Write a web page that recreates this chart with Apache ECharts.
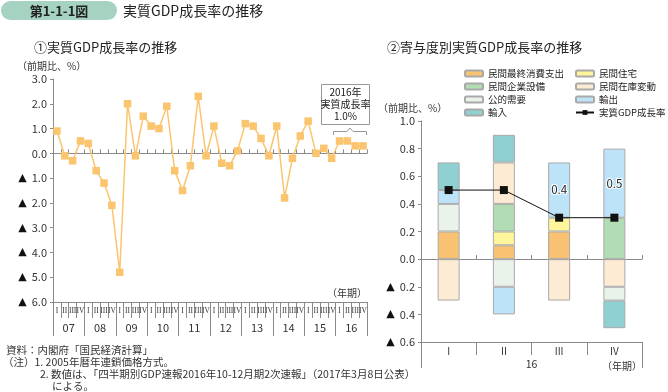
<!DOCTYPE html>
<html>
<head>
<meta charset="utf-8">
<script src="https://cdn.jsdelivr.net/npm/echarts@6/dist/echarts.min.js"></script>
<style>
html,body{margin:0;padding:0;background:#fff;}
#c{width:668px;height:392px;}
</style>
</head>
<body>
<div id="c"></div>
<script>
// ---- Left chart data: real GDP growth (q/q, %) 2007 Q1 - 2016 Q4
var quarterLabels = ['I','II','III','IV'];
var yearLabels = ['07','08','09','10','11','12','13','14','15','16'];
var gdpQuarterly = [
  0.9, -0.1, -0.3, 0.5,
  0.4, -0.7, -1.2, -2.1,
  -4.8, 2.0, -0.1, 1.5,
  1.1, 1.0, 1.9, -0.7,
  -1.5, -0.5, 2.3, -0.1,
  1.1, -0.4, -0.5, 0.1,
  1.2, 1.1, 0.6, -0.1,
  1.1, -1.8, -0.2, 0.7,
  1.3, 0.0, 0.2, -0.2,
  0.5, 0.5, 0.3, 0.3
];
// ---- Right chart data: contributions 2016 Q1-Q4
var contribQuarters = ['I','II','III','IV'];
var contribYear = ['16'];
var privateConsumption = [0.2, 0.1, 0.2, null];
var privateHousing = [null, 0.1, 0.1, null];
var privateCapex = [null, 0.2, null, 0.3];
var privateInventory = [-0.3, 0.3, -0.3, -0.2];
var publicDemand = [0.2, -0.2, null, -0.1];
var exportsC = [0.1, -0.2, 0.4, 0.5];
var importsC = [0.2, 0.2, null, -0.2];
var realGdp2016 = [0.5, 0.5, 0.3, 0.3];

var FONT = 'Noto Sans CJK JP';
var quarterCats = [];
yearLabels.forEach(function(y){ quarterLabels.forEach(function(q){ quarterCats.push(q); }); });

function fmtVal(v){
  var a = Math.abs(v).toFixed(1);
  return v < -1e-9 ? '{t|▲}  ' + a : a;
}
function nz(arr){ return arr.map(function(v){ return v === null ? '-' : v; }); }

var chart = echarts.init(document.getElementById('c'), null, {renderer:'canvas'});
var axisGray = '#8a8a8a';
var barBorder = '#a9a9a9';

function barSeries(name, data, color){
  return {
    name: name, type: 'bar', stack: 'c', xAxisIndex: 3, yAxisIndex: 1,
    barWidth: 22, data: nz(data),
    itemStyle: {color: color, borderColor: barBorder, borderWidth: 1},
    emphasis: {disabled: true}
  };
}

var exportsData = nz(exportsC).map(function(v, i){
  if (i >= 2) return {value: v, label: {show: true, position: 'inside', formatter: function(p){ return p.value.toFixed(1); },
    fontSize: 11.5, color: '#222', fontFamily: FONT, textBorderColor: '#fff', textBorderWidth: 2}};
  return v;
});

var yLabel = {formatter: fmtVal, fontSize: 11, color: '#333', margin: 6,
  rich: {t: {fontSize: 11, color: '#111', fontFamily: 'DejaVu Sans'}}};

var option = {
  animation: false,
  textStyle: {fontFamily: FONT},
  grid: [
    {left: 53, right: 301, top: 79, bottom: 90},
    {left: 421, right: 26, top: 121, bottom: 50}
  ],
  xAxis: [
    {gridIndex: 0, type: 'category', data: quarterCats, position: 'bottom', boundaryGap: true,
      axisLine: {onZero: true, lineStyle: {color: axisGray}},
      axisTick: {show: true, inside: true, length: 4, interval: 0, lineStyle: {color: axisGray}},
      axisLabel: {show: false}},
    {gridIndex: 0, type: 'category', data: quarterCats, position: 'bottom', boundaryGap: true,
      axisLine: {onZero: false, lineStyle: {color: axisGray}},
      axisTick: {show: true, length: 16, interval: 0, lineStyle: {color: axisGray}},
      axisLabel: {interval: 0, fontSize: 7.5, margin: 5, color: '#333', fontFamily: 'Liberation Sans Narrow'}},
    {gridIndex: 0, type: 'category', data: yearLabels, position: 'bottom', offset: 16, boundaryGap: true,
      axisLine: {show: false, onZero: false},
      axisTick: {show: true, length: 18, interval: 0, lineStyle: {color: axisGray}},
      axisLabel: {interval: 0, fontSize: 11, margin: 4, color: '#333'}},
    {gridIndex: 1, type: 'category', data: contribQuarters, position: 'bottom', boundaryGap: true,
      axisLine: {onZero: true, lineStyle: {color: axisGray}},
      axisTick: {show: true, inside: true, length: 4, interval: 0, lineStyle: {color: axisGray}},
      axisLabel: {show: false}},
    {gridIndex: 1, type: 'category', data: contribQuarters, position: 'bottom', boundaryGap: true,
      axisLine: {onZero: false, lineStyle: {color: axisGray}},
      axisTick: {show: true, length: 13, interval: 0, lineStyle: {color: axisGray}},
      axisLabel: {interval: 0, fontSize: 10, margin: 4, color: '#333'}},
    {gridIndex: 1, type: 'category', data: contribYear, position: 'bottom', offset: 13, boundaryGap: true,
      axisLine: {show: false, onZero: false},
      axisTick: {show: true, length: 13, interval: 0, lineStyle: {color: axisGray}},
      axisLabel: {interval: 0, fontSize: 10.5, margin: 4, color: '#333'}}
  ],
  yAxis: [
    {gridIndex: 0, type: 'value', min: -6, max: 3, interval: 1,
      axisLine: {show: true, lineStyle: {color: axisGray}},
      axisTick: {show: true, length: 3, lineStyle: {color: axisGray}},
      splitLine: {show: false}, axisLabel: yLabel},
    {gridIndex: 1, type: 'value', min: -0.6, max: 1.0, interval: 0.2,
      axisLine: {show: true, lineStyle: {color: axisGray}},
      axisTick: {show: true, length: 3, lineStyle: {color: axisGray}},
      splitLine: {show: false}, axisLabel: yLabel}
  ],
  legend: [
    {left: 459, top: 62, orient: 'vertical', itemWidth: 18, itemHeight: 6, itemGap: 0,
      textStyle: {fontSize: 9.5, lineHeight: 13, color: '#222', fontFamily: FONT},
      data: ['民間最終消費支出', '民間企業設備', '公的需要', '輸入'], selectedMode: false},
    {left: 570, top: 62, orient: 'vertical', itemWidth: 18, itemHeight: 6, itemGap: 0,
      textStyle: {fontSize: 9.5, lineHeight: 13, color: '#222', fontFamily: FONT},
      data: ['民間住宅', '民間在庫変動', '輸出', '実質GDP成長率'], selectedMode: false}
  ],
  series: [
    {name: '実質成長率', type: 'line', xAxisIndex: 0, yAxisIndex: 0, data: gdpQuarterly,
      symbol: 'rect', symbolSize: 7.5, showSymbol: true, showAllSymbol: true, color: '#FBC46E',
      lineStyle: {color: '#FBC46E', width: 1.5}, itemStyle: {color: '#FBC46E'}, z: 5},
    barSeries('民間最終消費支出', privateConsumption, '#F9C272'),
    barSeries('民間住宅', privateHousing, '#FFF59A'),
    barSeries('民間企業設備', privateCapex, '#B2DDB4'),
    barSeries('民間在庫変動', privateInventory, '#FDEBD3'),
    barSeries('公的需要', publicDemand, '#E9F3E9'),
    (function(){ var s = barSeries('輸出', exportsC, '#BDE3F8'); s.data = exportsData; return s; })(),
    barSeries('輸入', importsC, '#8FD0D2'),
    {name: '実質GDP成長率', type: 'line', xAxisIndex: 3, yAxisIndex: 1, data: realGdp2016,
      symbol: 'rect', symbolSize: 8, showSymbol: true, color: '#111',
      lineStyle: {color: '#111', width: 1}, itemStyle: {color: '#111'}, z: 10}
  ],
  graphic: [
    {type: 'rect', shape: {x: 1, y: 1, width: 116, height: 19, r: 9.5}, style: {fill: '#A5D2C1'}},
    {type: 'text', x: 59, y: 11, style: {text: '第1-1-1図', fontSize: 13, fontWeight: 'bold', fill: '#222', align: 'center', verticalAlign: 'middle', fontFamily: FONT}},
    {type: 'text', x: 123, y: 11, style: {text: '実質GDP成長率の推移', fontSize: 14, fill: '#222', verticalAlign: 'middle', fontFamily: FONT}},
    {type: 'text', x: 34, y: 47, style: {text: '①実質GDP成長率の推移', fontSize: 13, fill: '#222', verticalAlign: 'middle', fontFamily: FONT}},
    {type: 'text', x: 17, y: 66, style: {text: '（前期比、%）', fontSize: 10, fill: '#333', verticalAlign: 'middle', fontFamily: FONT}},
    {type: 'text', x: 367, y: 293, style: {text: '（年期）', fontSize: 10, fill: '#333', align: 'right', verticalAlign: 'middle', fontFamily: FONT}},
    {type: 'text', x: 387, y: 47, style: {text: '②寄与度別実質GDP成長率の推移', fontSize: 13, fill: '#222', verticalAlign: 'middle', fontFamily: FONT}},
    {type: 'text', x: 378, y: 108, style: {text: '（前期比、%）', fontSize: 10, fill: '#333', verticalAlign: 'middle', fontFamily: FONT}},
    {type: 'text', x: 642, y: 366, style: {text: '（年期）', fontSize: 10, fill: '#333', align: 'right', verticalAlign: 'middle', fontFamily: FONT}},
    // annotation box
    {type: 'rect', shape: {x: 321.5, y: 84.5, width: 48, height: 40}, style: {fill: '#fff', stroke: '#999', lineWidth: 1}, z: 20},
    {type: 'text', x: 345.5, y: 104.5, z: 21, style: {text: '2016年\n実質成長率\n1.0%', fontSize: 10, lineHeight: 12, fill: '#222', align: 'center', verticalAlign: 'middle', fontFamily: FONT}},
    {type: 'polyline', z: 20, shape: {points: [[333.5,135],[333.5,131.5],[347,131.5],[350,128],[353,131.5],[366.5,131.5],[366.5,135]]}, style: {stroke: '#999', fill: null, lineWidth: 1}},
    // footnotes
    {type: 'text', x: 6, y: 350, style: {text: '資料：内閣府「国民経済計算」', fontSize: 10.5, fill: '#333', verticalAlign: 'middle', fontFamily: FONT}},
    {type: 'text', x: 3, y: 362, style: {text: '（注）1. 2005年暦年連鎖価格方式。', fontSize: 10.5, fill: '#333', verticalAlign: 'middle', fontFamily: FONT}},
    {type: 'text', x: 40, y: 374, style: {text: '2. 数値は、「四半期別GDP速報2016年10-12月期2次速報」（2017年3月8日公表）', fontSize: 10.5, fill: '#333', verticalAlign: 'middle', fontFamily: FONT}},
    {type: 'text', x: 52, y: 386, style: {text: 'による。', fontSize: 10.5, fill: '#333', verticalAlign: 'middle', fontFamily: FONT}}
  ]
};
chart.setOption(option);
</script>
</body>
</html>
